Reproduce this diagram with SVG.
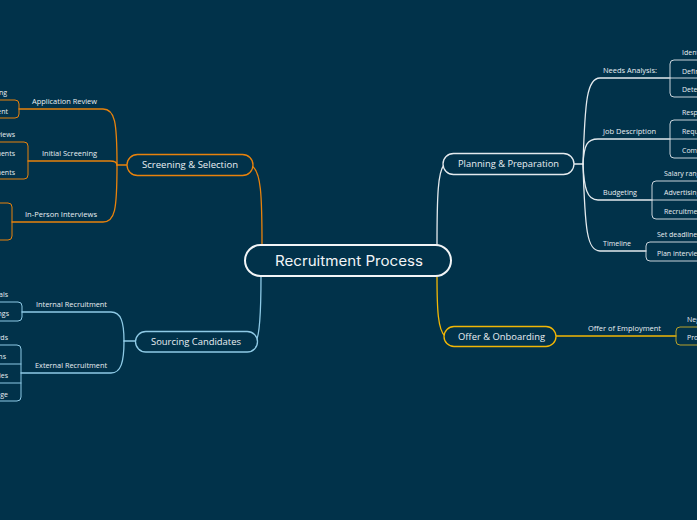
<svg xmlns="http://www.w3.org/2000/svg" width="697" height="520" viewBox="0 0 697 520">
<style>
.t{font-family:"Open Sans","Noto Sans","DejaVu Sans",sans-serif;fill:#e9eff3}
.c{font-size:7px}
.l{font-size:7.5px}
.n{font-size:9px}
.m{font-family:Inter,"Open Sans",sans-serif;font-size:14px;fill:#f2f5f7}
.ln{fill:none;stroke-linecap:round;stroke-linejoin:round}
.w{stroke:#e4eaee;stroke-width:1.3}
.wb{stroke:#c9d3da;stroke-width:1}
.o{stroke:#e8820c;stroke-width:1.3}
.ob{stroke:#e8820c;stroke-width:1}
.b{stroke:#8ecae6;stroke-width:1.3}
.bb{stroke:#8ecae6;stroke-width:1}
.y{stroke:#f2b705;stroke-width:1.3}
.yb{stroke:#b8a12a;stroke-width:1}
.box{fill:#01324a}
</style>
<rect width="697" height="520" fill="#01324a"/>
<g id="connectors">
<path class="ln w" d="M437,245 C437,195 438,172 444,165"/>
<path class="ln o" d="M262,245 C262,195 261,172 252,166"/>
<path class="ln b" d="M261,276 C261,310 260,335 256,341"/>
<path class="ln y" d="M437,276 C437,310 438,330 445,336"/>
<path class="ln w" d="M573,164 H583"/>
<path class="ln w" d="M583,164 C585,100 587,78 600,78 H670"/>
<path class="ln w" d="M583,164 C584,145 587,139 598,139 H670"/>
<path class="ln w" d="M583,164 C584,188 587,200 598,200 H652"/>
<path class="ln w" d="M583,164 C585,230 587,251 600,251 H646"/>
<path class="ln wb" d="M720,60 H674 Q670,60 670,64 V93 Q670,97 674,97 H720 M670,78 H720"/>
<path class="ln wb" d="M720,120 H674 Q670,120 670,124 V154 Q670,158 674,158 H720 M670,139 H720"/>
<path class="ln wb" d="M720,181 H656 Q652,181 652,185 V215 Q652,219 656,219 H720 M652,200 H720"/>
<path class="ln wb" d="M720,242 H650 Q646,242 646,246 V257 Q646,261 650,261 H720"/>
<path class="ln y" d="M556,336 H676"/>
<path class="ln yb" d="M720,327 H680 Q676,327 676,331 V341 Q676,345 680,345 H720"/>
<path class="ln o" d="M127,165 H117"/>
<path class="ln o" d="M117,165 C117,122 115,109 103,109 H19"/>
<path class="ln o" d="M117,165 C117,162 115,161 110,161 H28"/>
<path class="ln o" d="M117,165 C117,210 115,222 103,222 H12"/>
<path class="ln ob" d="M-20,100 H15 Q19,100 19,104 V114 Q19,118 15,118 H-20"/>
<path class="ln ob" d="M-20,142 H24 Q28,142 28,146 V175 Q28,179 24,179 H-20"/>
<path class="ln ob" d="M-20,203 H8 Q12,203 12,207 V236 Q12,240 8,240 H-20"/>
<path class="ln b" d="M135,341 H124"/>
<path class="ln b" d="M124,341 C124,322 121,312 111,312 H22"/>
<path class="ln b" d="M124,341 C124,362 121,373 111,373 H21"/>
<path class="ln bb" d="M-20,302 H18 Q22,302 22,306 V317 Q22,321 18,321 H-20"/>
<path class="ln bb" d="M-20,345 H17 Q21,345 21,349 V397 Q21,401 17,401 H-20 M-20,364 H21 M-20,383 H21"/>
</g>
<g id="root">
<rect x="245" y="245" width="206" height="31" rx="15.5" fill="#01324a" stroke="#f2f5f7" stroke-width="2"/>
<text class="m" x="349" y="266" text-anchor="middle" textLength="148" lengthAdjust="spacingAndGlyphs">Recruitment Process</text>
</g>
<g id="planning">
<rect class="box" x="443" y="153.5" width="131" height="21" rx="10.5" stroke="#e4eaee" stroke-width="1.3"/>
<text class="t n" x="458" y="167.3" textLength="101" lengthAdjust="spacingAndGlyphs">Planning &amp; Preparation</text>
</g>
<g id="needs-analysis">
<text class="t l" x="603" y="73" textLength="54" lengthAdjust="spacingAndGlyphs">Needs Analysis:</text>
<text class="t c" x="682" y="55">Identify hiring needs</text>
<text class="t c" x="682" y="73.5">Define job roles</text>
<text class="t c" x="682" y="92">Determine budget</text>
</g>
<g id="job-description">
<text class="t l" x="603" y="134" textLength="53" lengthAdjust="spacingAndGlyphs">Job Description</text>
<text class="t c" x="682" y="115">Responsibilities</text>
<text class="t c" x="682" y="134">Requirements</text>
<text class="t c" x="682" y="153">Compensation</text>
</g>
<g id="budgeting">
<text class="t l" x="603" y="194.5" textLength="34" lengthAdjust="spacingAndGlyphs">Budgeting</text>
<text class="t c" x="664" y="176">Salary range</text>
<text class="t c" x="664" y="195">Advertising costs</text>
<text class="t c" x="664" y="214">Recruitment tools</text>
</g>
<g id="timeline">
<text class="t l" x="603" y="246" textLength="28" lengthAdjust="spacingAndGlyphs">Timeline</text>
<text class="t c" x="657" y="237">Set deadlines</text>
<text class="t c" x="657" y="256">Plan interviews</text>
</g>
<g id="offer">
<rect class="box" x="444" y="326.5" width="112" height="20" rx="10" stroke="#f2b705" stroke-width="1.3"/>
<text class="t n" x="458" y="339.5" textLength="87" lengthAdjust="spacingAndGlyphs">Offer &amp; Onboarding</text>
</g>
<g id="offer-of-employment">
<text class="t l" x="588" y="331" textLength="73" lengthAdjust="spacingAndGlyphs">Offer of Employment</text>
<text class="t c" x="687" y="322">Negotiation</text>
<text class="t c" x="687" y="340">Provide contract</text>
</g>
<g id="screening">
<rect class="box" x="127" y="154.5" width="126" height="21" rx="10.5" stroke="#e8820c" stroke-width="1.3"/>
<text class="t n" x="142" y="168.3" textLength="96" lengthAdjust="spacingAndGlyphs">Screening &amp; Selection</text>
</g>
<g id="application-review">
<text class="t l" x="32" y="104" textLength="65" lengthAdjust="spacingAndGlyphs">Application Review</text>
<text class="t c" x="7" y="95" text-anchor="end">Resume screening</text>
<text class="t c" x="8" y="113.5" text-anchor="end">Skills assessment</text>
</g>
<g id="initial-screening">
<text class="t l" x="42" y="156" textLength="55" lengthAdjust="spacingAndGlyphs">Initial Screening</text>
<text class="t c" x="15" y="137" text-anchor="end">Phone interviews</text>
<text class="t c" x="15" y="156" text-anchor="end">Technical assessments</text>
<text class="t c" x="15" y="174.5" text-anchor="end">Personality assessments</text>
</g>
<g id="in-person-interviews">
<text class="t l" x="25" y="217" textLength="72" lengthAdjust="spacingAndGlyphs">In-Person Interviews</text>
</g>
<g id="sourcing">
<rect class="box" x="135.5" y="331.5" width="122" height="20.5" rx="10.25" stroke="#8ecae6" stroke-width="1.3"/>
<text class="t n" x="151" y="345" textLength="90" lengthAdjust="spacingAndGlyphs">Sourcing Candidates</text>
</g>
<g id="internal-recruitment">
<text class="t l" x="36" y="307" textLength="71" lengthAdjust="spacingAndGlyphs">Internal Recruitment</text>
<text class="t c" x="8" y="297" text-anchor="end">Employee referrals</text>
<text class="t c" x="9" y="316" text-anchor="end">Internal job postings</text>
</g>
<g id="external-recruitment">
<text class="t l" x="35" y="368" textLength="72" lengthAdjust="spacingAndGlyphs">External Recruitment</text>
<text class="t c" x="8" y="340" text-anchor="end">Job boards</text>
<text class="t c" x="6" y="359" text-anchor="end">Social media campaigns</text>
<text class="t c" x="8" y="378" text-anchor="end">Recruitment agencies</text>
<text class="t c" x="8" y="396.5" text-anchor="end">Career page</text>
</g>
</svg>
